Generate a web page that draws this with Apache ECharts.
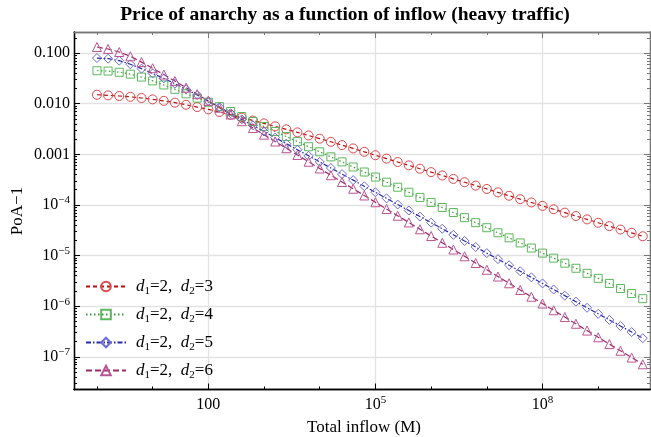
<!DOCTYPE html>
<html>
<head>
<meta charset="utf-8">
<script src="https://cdn.jsdelivr.net/npm/echarts@6/dist/echarts.min.js"></script>
<style>
  html, body { margin: 0; padding: 0; background: #fff; }
  #chart { width: 651px; height: 437px; }
</style>
</head>
<body>
<div id="chart"></div>
<script>
// Total inflow M (five samples per decade)
const inflow = [
  1, 1.585, 2.512, 3.981, 6.31,
  10, 15.85, 25.12, 39.81, 63.1,
  100, 158.5, 251.2, 398.1, 631,
  1000, 1585, 2512, 3981, 6310,
  1e4, 1.585e4, 2.512e4, 3.981e4, 6.31e4,
  1e5, 1.585e5, 2.512e5, 3.981e5, 6.31e5,
  1e6, 1.585e6, 2.512e6, 3.981e6, 6.31e6,
  1e7, 1.585e7, 2.512e7, 3.981e7, 6.31e7,
  1e8, 1.585e8, 2.512e8, 3.981e8, 6.31e8,
  1e9, 1.585e9, 2.512e9, 3.981e9, 6.31e9
];

// PoA - 1 for d1 = 2 and d2 = 3, 4, 5, 6
const poaD3 = [
  0.0150, 0.01459, 0.01416, 0.01365, 0.01294,
  0.01216, 0.01135, 0.01047, 0.00951, 0.00857,
  0.00771, 0.00684, 0.00603, 0.00530, 0.00465,
  0.00407, 3.565e-3, 3.11e-3, 2.71e-3, 2.355e-3,
  2.04e-3, 1.766e-3, 1.52e-3, 1.306e-3, 1.119e-3,
  9.59e-4, 8.22e-4, 7.05e-4, 6.05e-4, 5.19e-4,
  4.45e-4, 3.82e-4, 3.27e-4, 2.81e-4, 2.41e-4,
  2.07e-4, 1.77e-4, 1.52e-4, 1.30e-4, 1.12e-4,
  9.59e-5, 8.22e-5, 7.05e-5, 6.05e-5, 5.19e-5,
  4.45e-5, 3.82e-5, 3.27e-5, 2.81e-5, 2.41e-5
];
const poaD4 = [
  0.0447, 0.0440, 0.0417, 0.0383, 0.0335,
  0.0282, 0.0234, 0.0192, 0.01567, 0.01288,
  0.01067, 0.00871, 0.00700, 0.00558, 0.00445,
  0.00355, 2.82e-3, 2.24e-3, 1.78e-3, 1.41e-3,
  1.12e-3, 8.91e-4, 7.08e-4, 5.62e-4, 4.47e-4,
  3.55e-4, 2.82e-4, 2.24e-4, 1.78e-4, 1.41e-4,
  1.12e-4, 8.91e-5, 7.08e-5, 5.62e-5, 4.47e-5,
  3.55e-5, 2.82e-5, 2.24e-5, 1.78e-5, 1.41e-5,
  1.12e-5, 8.91e-6, 7.08e-6, 5.62e-6, 4.47e-6,
  3.55e-6, 2.82e-6, 2.24e-6, 1.78e-6, 1.41e-6
];
const poaD5 = [
  0.0796, 0.0773, 0.0708, 0.0600, 0.0492,
  0.0395, 0.0316, 0.0248, 0.0193, 0.0148,
  0.01122, 0.00851, 0.00646, 0.00490, 0.00372,
  0.00282, 2.14e-3, 1.62e-3, 1.23e-3, 9.33e-4,
  7.08e-4, 5.37e-4, 4.07e-4, 3.09e-4, 2.34e-4,
  1.78e-4, 1.35e-4, 1.02e-4, 7.76e-5, 5.89e-5,
  4.47e-5, 3.39e-5, 2.57e-5, 1.95e-5, 1.48e-5,
  1.12e-5, 8.51e-6, 6.46e-6, 4.90e-6, 3.72e-6,
  2.82e-6, 2.14e-6, 1.62e-6, 1.23e-6, 9.33e-7,
  7.08e-7, 5.37e-7, 4.07e-7, 3.09e-7, 2.34e-7
];
const poaD6 = [
  0.1315, 0.1202, 0.1047, 0.0861, 0.0661,
  0.0501, 0.0376, 0.0279, 0.0207, 0.01538,
  0.01132, 0.00832, 6.12e-3, 4.51e-3, 3.31e-3,
  2.44e-3, 1.79e-3, 1.32e-3, 9.70e-4, 7.14e-4,
  5.25e-4, 3.86e-4, 2.84e-4, 2.09e-4, 1.54e-4,
  1.13e-4, 8.32e-5, 6.12e-5, 4.51e-5, 3.31e-5,
  2.44e-5, 1.79e-5, 1.32e-5, 9.70e-6, 7.14e-6,
  5.25e-6, 3.86e-6, 2.84e-6, 2.09e-6, 1.54e-6,
  1.13e-6, 8.32e-7, 6.12e-7, 4.51e-7, 3.31e-7,
  2.44e-7, 1.79e-7, 1.32e-7, 9.70e-8, 7.14e-8
];

const seriesD2 = [3, 4, 5, 6];

// Tick labels (decade exponent -> text; "^" marks a superscript)
const xLabelExps = [2, 5, 8];
const xTickLabels = ['100', '10^5', '10^8'];
const yLabelExps = [-1, -2, -3, -4, -5, -6, -7];
const yTickLabels = ['0.100', '0.010', '0.001', '10^\u22124', '10^\u22125', '10^\u22126', '10^\u22127'];

const titleText = 'Price of anarchy as a function of inflow (heavy traffic)';
const xName = 'Total inflow (M)';
const yName = 'PoA\u22121';

// Both axes are drawn in log10 space
const X_MIN = -0.412, X_MAX = 9.93;
const Y_MIN = -7.644, Y_MAX = -0.585;

const SERIF = '"Liberation Serif", "DejaVu Serif", serif';

// Decade ticks without a label, and 2..9 sub-decade ticks on the y axis
const xDecades = [];
for (let e = Math.ceil(X_MIN); e <= Math.floor(X_MAX); e++) {
  if (xLabelExps.indexOf(e) < 0) xDecades.push(e);
}
const yMinor = [];
for (let e = Math.floor(Y_MIN); e < Math.ceil(Y_MAX); e++) {
  for (let k = 2; k <= 9; k++) {
    const v = e + Math.log10(k);
    if (v > Y_MIN && v < Y_MAX) yMinor.push(v);
  }
}

function richLabel(txt) {
  const i = txt.indexOf('^');
  if (i < 0) return '{b|' + txt + '}';
  return '{b|' + txt.slice(0, i) + '}{sup|' + txt.slice(i + 1) + '}';
}
const labelRich = {
  b: { fontFamily: SERIF, fontSize: 16, color: '#000', lineHeight: 20, verticalAlign: 'middle' },
  sup: { fontFamily: SERIF, fontSize: 11, color: '#000', lineHeight: 12, verticalAlign: 'top' }
};

function xAxisDef(position, ticks, len, color, withLabels) {
  return {
    type: 'value', position: position, min: X_MIN, max: X_MAX,
    axisLine: { show: withLabels !== null, onZero: false, lineStyle: { color: color, width: 1.3 } },
    axisTick: { show: true, inside: true, length: len, customValues: ticks, lineStyle: { color: color, width: 1 } },
    axisLabel: withLabels ? {
      show: true, customValues: xLabelExps, margin: 5,
      formatter: v => richLabel(xTickLabels[xLabelExps.indexOf(Math.round(v))] || ''),
      rich: labelRich
    } : { show: false },
    splitLine: withLabels ? { show: true, lineStyle: { color: '#e2e2e2', width: 1.3 } } : { show: false }
  };
}
function yAxisDef(position, ticks, len, color, withLabels) {
  return {
    type: 'value', position: position, min: Y_MIN, max: Y_MAX,
    axisLine: { show: withLabels !== null, onZero: false, lineStyle: { color: color, width: 1.3 } },
    axisTick: { show: true, inside: true, length: len, customValues: ticks, lineStyle: { color: color, width: 1 } },
    axisLabel: withLabels ? {
      show: true, customValues: yLabelExps, margin: 4,
      formatter: v => richLabel(yTickLabels[yLabelExps.indexOf(Math.round(v))] || ''),
      rich: labelRich
    } : { show: false },
    splitLine: withLabels ? { show: true, lineStyle: { color: '#e2e2e2', width: 1.3 } } : { show: false }
  };
}

const styles = [
  { line: '#b81010', mark: '#e0474c', symbol: 'circle', size: 9, dash: [4, 3] },
  { line: '#3a9a3a', mark: '#5cb85c', symbol: 'rect', size: 8, dash: [1.5, 2.5] },
  { line: '#2a2aa6', mark: '#6c6cd6', symbol: 'diamond', size: 9, dash: [5, 2, 1.5, 2] },
  { line: '#9a2a6a', mark: '#bc5594', symbol: 'triangle', size: 9, dash: [6, 3] }
];
const values = [poaD3, poaD4, poaD5, poaD6];
const names = seriesD2.map(d => 'd1=2, d2=' + d);

const series = values.map((vals, s) => ({
  name: names[s],
  type: 'line',
  xAxisIndex: 0, yAxisIndex: 0,
  data: inflow.map((m, i) => [Math.log10(m), Math.log10(vals[i])]),
  symbol: styles[s].symbol,
  symbolSize: styles[s].size,
  showSymbol: true,
  color: styles[s].line,
  lineStyle: { color: styles[s].line, width: 1.2, type: styles[s].dash },
  itemStyle: { color: 'rgba(255,255,255,0)', borderColor: styles[s].mark, borderWidth: 1 },
  emphasis: { disabled: true },
  silent: true
}));

const chart = echarts.init(document.getElementById('chart'), null, { renderer: 'canvas' });
chart.setOption({
  animation: false,
  backgroundColor: '#fff',
  grid: { left: 74, right: 1, top: 32, bottom: 47.5, containLabel: false, outerBoundsMode: 'none' },
  xAxis: [
    xAxisDef('bottom', xLabelExps, 6, '#000', true),
    xAxisDef('bottom', xDecades, 3, '#000', false),
    xAxisDef('top', xLabelExps, 6, '#777', false),
    xAxisDef('top', xDecades, 3, '#777', false)
  ],
  yAxis: [
    yAxisDef('left', yLabelExps, 6, '#000', true),
    yAxisDef('left', yMinor, 3, '#000', false),
    yAxisDef('right', yLabelExps, 6, '#777', false),
    yAxisDef('right', yMinor, 3, '#777', false)
  ],
  legend: {
    orient: 'vertical', left: 80, top: 273,
    itemWidth: 40, itemHeight: 12, itemGap: 9.5,
    selectedMode: false,
    data: names,
    formatter: name => {
      const d2 = name.split('d2=')[1];
      return '{i|d}{s|1}{n|=2,  }{i|d}{s|2}{n|=' + d2 + '}';
    },
    textStyle: {
      padding: [0, 0, 0, 5],
      rich: {
        i: { fontFamily: SERIF, fontStyle: 'italic', fontSize: 17, color: '#000', lineHeight: 20, verticalAlign: 'middle' },
        n: { fontFamily: SERIF, fontSize: 17, color: '#000', lineHeight: 20, verticalAlign: 'middle' },
        s: { fontFamily: SERIF, fontSize: 11, color: '#000', lineHeight: 12, verticalAlign: 'bottom' }
      }
    }
  },
  graphic: [
    { type: 'text', x: 345, y: 15, silent: true,
      style: { text: titleText, align: 'center', verticalAlign: 'middle', fontFamily: SERIF, fontWeight: 'bold', fontSize: 19.5, fill: '#000' } },
    { type: 'text', x: 364, y: 428, silent: true,
      style: { text: xName, align: 'center', verticalAlign: 'middle', fontFamily: SERIF, fontSize: 17, fill: '#000' } },
    { type: 'text', x: 18, y: 211, rotation: Math.PI / 2, silent: true,
      style: { text: yName, align: 'center', verticalAlign: 'middle', fontFamily: SERIF, fontSize: 17, fill: '#000' } }
  ],
  series: series
});
</script>
</body>
</html>
